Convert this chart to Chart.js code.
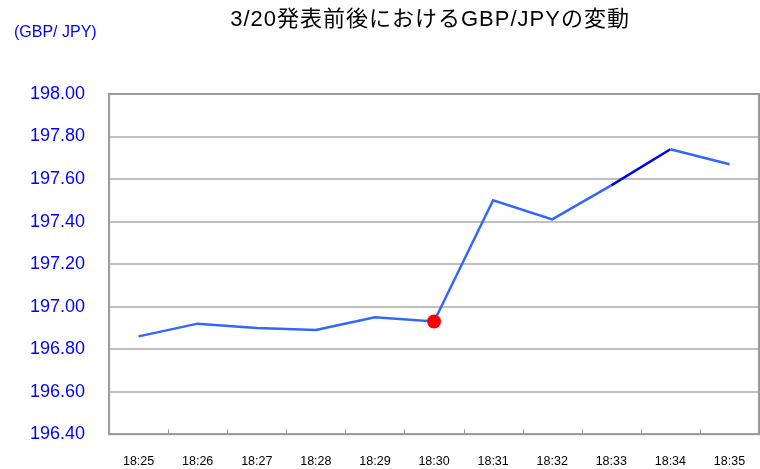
<!DOCTYPE html>
<html>
<head>
<meta charset="utf-8">
<script src="https://cdn.jsdelivr.net/npm/chart.js@4"></script>
<style>
  html, body { margin: 0; padding: 0; background: #fff; }
  #wrap { width: 760px; height: 469px; }
</style>
</head>
<body>
<div id="wrap"><canvas id="myChart" width="760" height="469"></canvas></div>
<script>
const times = ['18:25', '18:26', '18:27', '18:28', '18:29', '18:30', '18:31', '18:32', '18:33', '18:34', '18:35'];
const rates = [196.86, 196.92, 196.90, 196.89, 196.95, 196.93, 197.50, 197.41, 197.57, 197.74, 197.67];
const markIndex = 5;   // 発表時刻
const titleText = '3/20発表前後におけるGBP/JPYの変動';
const unitText = '(GBP/ JPY)';

// 枠線・目盛・タイトル
const decor = {
  id: 'decor',
  beforeDatasetsDraw(chart) {
    const { ctx, chartArea: a, scales } = chart;
    ctx.save();
    ctx.strokeStyle = '#9a9a9a';
    ctx.lineWidth = 2;
    ctx.strokeRect(a.left, a.top, a.right - a.left, a.bottom - a.top);
    // x軸の内側目盛
    ctx.lineWidth = 1;
    const x = scales.x;
    for (let i = 1; i < times.length; i++) {
      const px = Math.round((x.getPixelForTick(i - 1) + x.getPixelForTick(i)) / 2) + 0.5;
      ctx.beginPath();
      ctx.moveTo(px, a.bottom);
      ctx.lineTo(px, a.bottom - 5);
      ctx.stroke();
    }
    ctx.restore();
  },
  afterDraw(chart) {
    const { ctx, chartArea: a } = chart;
    ctx.save();
    ctx.fillStyle = '#000';
    ctx.textAlign = 'center';
    ctx.textBaseline = 'middle';
    ctx.font = '22px "Liberation Sans", "Noto Sans CJK JP", sans-serif';
    ctx.letterSpacing = '1px';
    ctx.fillText(titleText, (a.left + a.right) / 2 - 4, 20);
    ctx.letterSpacing = '0px';
    ctx.fillStyle = '#0000ff';
    ctx.textAlign = 'left';
    ctx.font = '16px "Liberation Sans", sans-serif';
    ctx.fillText(unitText, 14, 33);
    ctx.restore();
  }
};

const data = {
  labels: times,
  datasets: [{
    data: rates,
    borderColor: '#3366ff',
    borderWidth: 2.5,
    pointRadius: rates.map((v, i) => i === markIndex ? 7 : 0),
    pointBackgroundColor: '#ff0000',
    pointBorderColor: '#ff0000',
    pointBorderWidth: 0,
    tension: 0,
    segment: {
      borderColor: c => c.p0DataIndex === 8 ? '#0000ee' : undefined
    }
  }]
};

const config = {
  type: 'line',
  data,
  options: {
    responsive: false,
    animation: false,
    layout: { padding: { top: 94, right: 1, left: 6, bottom: -20 } },
    plugins: {
      legend: { display: false },
      title: { display: false },
      tooltip: { enabled: false }
    },
    scales: {
      x: {
        offset: true,
        grid: { display: false },
        border: { display: false },
        ticks: {
          color: '#000',
          padding: 12,
          maxRotation: 0,
          font: { family: '"Liberation Sans", sans-serif', size: 12.5 }
        }
      },
      y: {
        min: 196.4,
        max: 198.0,
        grid: { color: '#c0c0c0', lineWidth: 2, drawTicks: false },
        border: { display: false },
        ticks: {
          stepSize: 0.2,
          color: '#0000ff',
          padding: 24,
          font: { family: '"Liberation Sans", sans-serif', size: 18 },
          callback: v => v.toFixed(2)
        }
      }
    }
  },
  plugins: [decor]
};

const myChart = new Chart(document.getElementById('myChart'), config);
</script>
</body>
</html>
